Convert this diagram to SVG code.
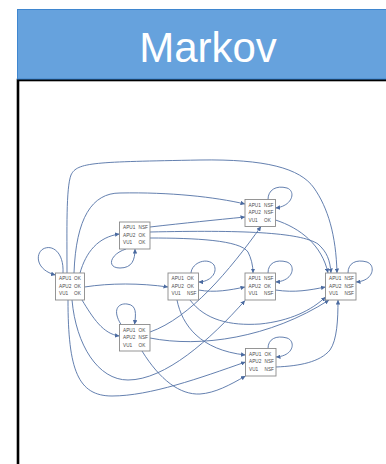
<svg xmlns="http://www.w3.org/2000/svg" width="386" height="464" viewBox="0 0 386 464">
  <style>
    .node rect { fill: #ffffff; stroke: #8a8a8a; stroke-width: 0.9; }
    .node text { font-family: "Liberation Sans", Arial, sans-serif; font-size: 4.7px; fill: #4a4a4a; }
    .edges path { fill: none; stroke: #5272a6; stroke-width: 0.9; marker-end: url(#arrow); }
    .title { font-family: "Liberation Sans", Arial, sans-serif; font-size: 42px; fill: #ffffff; text-anchor: middle; }
  </style>
  <defs>
    <marker id="arrow" viewBox="0 0 10 10" refX="10" refY="5" markerWidth="4.5" markerHeight="4.5" markerUnits="userSpaceOnUse" orient="auto">
      <path d="M0,0 L10,5 L0,10 z" fill="#4a6aa0"/>
    </marker>
  </defs>

  <!-- slide frame -->
  <rect x="0" y="0" width="386" height="464" fill="#ffffff"/>
  <rect x="18" y="80" width="380" height="400" fill="#ffffff" stroke="#000000" stroke-width="2.6"/>
  <rect x="17.5" y="9.5" width="380" height="69.5" fill="#66a2dd" stroke="#3f86cf" stroke-width="1"/>
  <text class="title" x="208" y="62">Markov</text>

  <!-- transitions -->
  <g id="edges" class="edges">
    <!-- A: all OK -->
    <path d="M63 273 C64 252, 52 244, 43 249 C35 254, 36 270, 55.5 275"/>
    <path d="M80 273 C86 252, 98 237, 119.5 234"/>
    <path d="M84.5 287 C110 283, 140 283, 168 287"/>
    <path d="M82 300 C93 318, 103 334, 119.5 336"/>
    <path d="M74 273 C76 218, 92 193, 120 193 C170 192, 215 197, 245 204"/>
    <path d="M67 273 C67 230, 66 188, 71 175 C77 162, 95 162, 200 160 C265 159, 300 168, 314 188 C328 208, 336 235, 337 273"/>
    <path d="M72 300 C76 345, 98 380, 128 380 C165 380, 210 340, 245 300.5"/>
    <path d="M68 300 C68 370, 78 396, 112 396 C150 396, 200 378, 245.5 362"/>
    <!-- B -->
    <path d="M126 249 C110 254, 106 268, 120 268 C132 268, 135 260, 135 249"/>
    <path d="M150 227 C185 223, 215 220, 245 217"/>
    <path d="M150 232 C240 230, 300 232, 318 244 C327 252, 330 260, 331 273"/>
    <path d="M150 238 C195 238, 240 240, 248 252 C251 258, 253 265, 253 273"/>
    <!-- C -->
    <path d="M191 273 C192 262, 208 257, 214 265 C218 273, 210 282, 198.5 282"/>
    <path d="M198.5 290 C215 293, 230 290, 245 287"/>
    <path d="M177 300 C182 325, 200 350, 245.5 355"/>
    <path d="M190 300 C205 320, 230 326, 260 324 C290 321, 312 310, 325.5 297"/>
    <!-- G -->
    <path d="M121 324.5 C112 310, 118 303, 127 304 C137 305, 136 314, 134.5 324.5"/>
    <path d="M150 332 C190 318, 230 270, 261 226.5"/>
    <path d="M150 338 C200 348, 270 338, 329 300"/>
    <path d="M142 351 C160 380, 180 395, 200 394 C215 393, 230 385, 245.5 376"/>
    <!-- D, E, F, H -->
    <path d="M268 199.5 C268 190, 276 185, 287 188 C296 191, 293 206, 275.5 208"/>
    <path d="M275.5 220 C300 228, 322 245, 328 273"/>
    <path d="M268 273 C268 263, 276 259, 287 262 C296 265, 294 281, 275.5 282"/>
    <path d="M275.5 290 C295 293, 310 290, 325.5 287"/>
    <path d="M348 273 C348 263, 356 259, 367 262 C376 265, 374 281, 356 282"/>
    <path d="M268 348.5 C268 339, 276 335, 287 338 C296 341, 294 356, 276 357"/>
    <path d="M276 367 C300 366, 320 362, 330 350 C337 340, 338 320, 338 300"/>
  </g>

  <!-- states -->
  <g id="s-ok-ok-ok" class="node">
    <rect x="55.5" y="273" width="29" height="27"/>
    <text x="59" y="280">APU1</text><text x="74" y="280">OK</text>
    <text x="59" y="287.7">APU2</text><text x="74" y="287.7">OK</text>
    <text x="59" y="295.4">VU1</text><text x="74" y="295.4">OK</text>
  </g>
  <g id="s-nsf-ok-ok" class="node">
    <rect x="119.5" y="222" width="30.5" height="27"/>
    <text x="123" y="229">APU1</text><text x="138.5" y="229">NSF</text>
    <text x="123" y="236.7">APU2</text><text x="138.5" y="236.7">OK</text>
    <text x="123" y="244.4">VU1</text><text x="138.5" y="244.4">OK</text>
  </g>
  <g id="s-ok-ok-nsf" class="node">
    <rect x="168" y="273" width="30.5" height="27"/>
    <text x="171.5" y="280">APU1</text><text x="187" y="280">OK</text>
    <text x="171.5" y="287.7">APU2</text><text x="187" y="287.7">OK</text>
    <text x="171.5" y="295.4">VU1</text><text x="187" y="295.4">NSF</text>
  </g>
  <g id="s-ok-nsf-ok" class="node">
    <rect x="119.5" y="324.5" width="30.5" height="26.5"/>
    <text x="123" y="331.5">APU1</text><text x="138.5" y="331.5">OK</text>
    <text x="123" y="339.2">APU2</text><text x="138.5" y="339.2">NSF</text>
    <text x="123" y="346.9">VU1</text><text x="138.5" y="346.9">OK</text>
  </g>
  <g id="s-nsf-nsf-ok" class="node">
    <rect x="245" y="199.5" width="30.5" height="27"/>
    <text x="248.5" y="206.5">APU1</text><text x="264" y="206.5">NSF</text>
    <text x="248.5" y="214.2">APU2</text><text x="264" y="214.2">NSF</text>
    <text x="248.5" y="221.9">VU1</text><text x="264" y="221.9">OK</text>
  </g>
  <g id="s-nsf-ok-nsf" class="node">
    <rect x="245" y="273" width="30.5" height="27"/>
    <text x="248.5" y="280">APU1</text><text x="264" y="280">NSF</text>
    <text x="248.5" y="287.7">APU2</text><text x="264" y="287.7">OK</text>
    <text x="248.5" y="295.4">VU1</text><text x="264" y="295.4">NSF</text>
  </g>
  <g id="s-nsf-nsf-nsf" class="node">
    <rect x="325.5" y="273" width="30.5" height="27"/>
    <text x="329" y="280">APU1</text><text x="344.5" y="280">NSF</text>
    <text x="329" y="287.7">APU2</text><text x="344.5" y="287.7">NSF</text>
    <text x="329" y="295.4">VU1</text><text x="344.5" y="295.4">NSF</text>
  </g>
  <g id="s-ok-nsf-nsf" class="node">
    <rect x="245.5" y="348.5" width="30.5" height="27.5"/>
    <text x="249" y="355.5">APU1</text><text x="264.5" y="355.5">OK</text>
    <text x="249" y="363.2">APU2</text><text x="264.5" y="363.2">NSF</text>
    <text x="249" y="370.9">VU1</text><text x="264.5" y="370.9">NSF</text>
  </g>
</svg>
